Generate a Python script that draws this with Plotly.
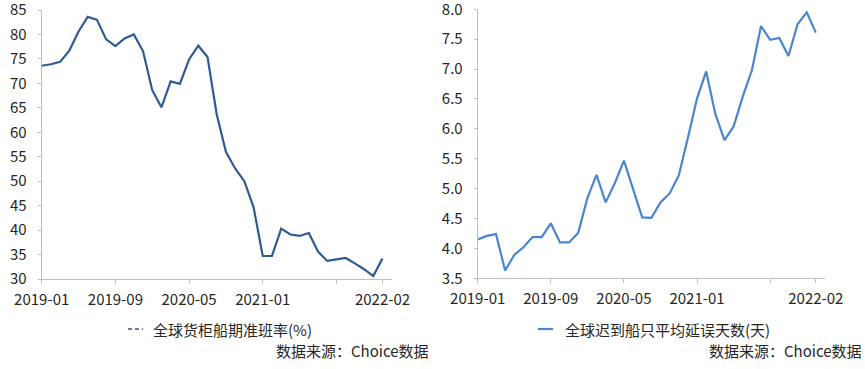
import plotly.graph_objects as go

# ---- data ----
months = [f"{y}-{m:02d}" for y in (2019, 2020, 2021, 2022) for m in range(1, 13)][:38]

punctuality = [
    73.6, 73.9, 74.4, 76.7, 80.6, 83.6, 83.0, 79.0, 77.6, 79.2, 80.0, 76.6,
    68.6, 65.1, 70.4, 69.9, 74.9, 77.7, 75.4, 63.7, 56.0, 52.6, 50.0, 44.7,
    34.7, 34.7, 40.3, 39.1, 38.8, 39.4, 35.6, 33.7, 34.0, 34.3, 33.2, 32.0,
    30.6, 34.2,
]
delay_days = [
    4.15, 4.21, 4.24, 3.63, 3.89, 4.02, 4.19, 4.19, 4.42, 4.10, 4.10, 4.26,
    4.84, 5.23, 4.77, 5.09, 5.47, 5.00, 4.52, 4.51, 4.77, 4.92, 5.22, 5.85,
    6.51, 6.96, 6.25, 5.81, 6.04, 6.54, 6.98, 7.72, 7.49, 7.52, 7.22, 7.75,
    7.95, 7.61,
]

tick_vals = ["2019-01", "2019-09", "2020-05", "2021-01", "2021-09", "2022-02"]
tick_text = ["2019-01", "2019-09", "2020-05", "2021-01", "", "2022-02"]
left_yticks = [30, 35, 40, 45, 50, 55, 60, 65, 70, 75, 80, 85]
right_yticks = [3.5, 4.0, 4.5, 5.0, 5.5, 6.0, 6.5, 7.0, 7.5, 8.0]

left_name = "全球货柜船期准班率(%)"
right_name = "全球迟到船只平均延误天数(天)"
source_text = "数据来源：Choice数据"

left_color = "#2f5b94"
right_color = "#4a86cf"
axis_color = "#bfbfbf"
text_color = "#262626"
FONT = "Noto Sans CJK SC"

W, H = 865, 369

fig = go.Figure()
fig.add_trace(go.Scatter(x=months, y=punctuality, mode="lines",
                         line=dict(color=left_color, width=2.2),
                         xaxis="x", yaxis="y", showlegend=False))
fig.add_trace(go.Scatter(x=months, y=delay_days, mode="lines",
                         line=dict(color=right_color, width=2.2),
                         xaxis="x2", yaxis="y2", showlegend=False))

def px(x):
    return x / W

def py(y):
    return (H - y) / H

xcommon = dict(type="category", categoryorder="array", categoryarray=months,
               range=[0, 38], showline=True, linecolor=axis_color, linewidth=1,
               ticks="outside", ticklen=4, tickcolor=axis_color, tickwidth=1,
               tickmode="array", tickvals=tick_vals, ticktext=tick_text,
               showgrid=False, zeroline=False, automargin=False,
               ticklabeloverflow="allow",
               tickfont=dict(size=15, color=text_color, family=FONT),
               ticklabelstandoff=3)
ycommon = dict(showline=True, linecolor=axis_color, linewidth=1,
               ticks="outside", ticklen=3, tickcolor=axis_color, tickwidth=1,
               showgrid=False, zeroline=False, automargin=False,
               tickmode="array", ticklabeloverflow="allow",
               tickfont=dict(size=15, color=text_color, family=FONT),
               ticklabelstandoff=8)

fig.update_layout(
    template="none",
    width=W, height=H,
    margin=dict(l=0, r=0, t=0, b=0, pad=0),
    paper_bgcolor="white", plot_bgcolor="white",
    font=dict(family=FONT, color=text_color, size=14),
    showlegend=False,
    xaxis=dict(domain=[px(41.7), px(391.7)], anchor="y", **xcommon),
    yaxis=dict(domain=[py(279), py(10)], anchor="x", range=[30, 85],
               tickvals=left_yticks, **ycommon),
    xaxis2=dict(domain=[px(477.7), px(825)], anchor="y2", **xcommon),
    yaxis2=dict(domain=[py(278.3), py(9.3)], anchor="x2", range=[3.5, 8.0],
                tickvals=right_yticks, tickformat=".1f", **ycommon),
)

# legend-like keys
fig.add_shape(type="line", xref="paper", yref="paper",
              x0=px(128), x1=px(143), y0=py(329), y1=py(329),
              line=dict(color=left_color, width=1.5, dash="4px,3px"))
fig.add_shape(type="line", xref="paper", yref="paper",
              x0=px(538), x1=px(553), y0=py(329), y1=py(329),
              line=dict(color=right_color, width=2.2))

ann = []
ann.append(dict(text=left_name, x=px(151), y=py(329), xanchor="left", yanchor="middle"))
ann.append(dict(text=right_name, x=px(563), y=py(329), xanchor="left", yanchor="middle"))
ann.append(dict(text=source_text, x=px(431), y=py(350.5), xanchor="right", yanchor="middle"))
ann.append(dict(text=source_text, x=px(864), y=py(350.5), xanchor="right", yanchor="middle"))
for a in ann:
    fig.add_annotation(xref="paper", yref="paper", showarrow=False,
                       font=dict(size=15, color=text_color, family=FONT), **a)

fig.write_html("out.html",
               config={"displayModeBar": False},
               post_script="document.body.style.margin='0';document.body.style.padding='0';")
